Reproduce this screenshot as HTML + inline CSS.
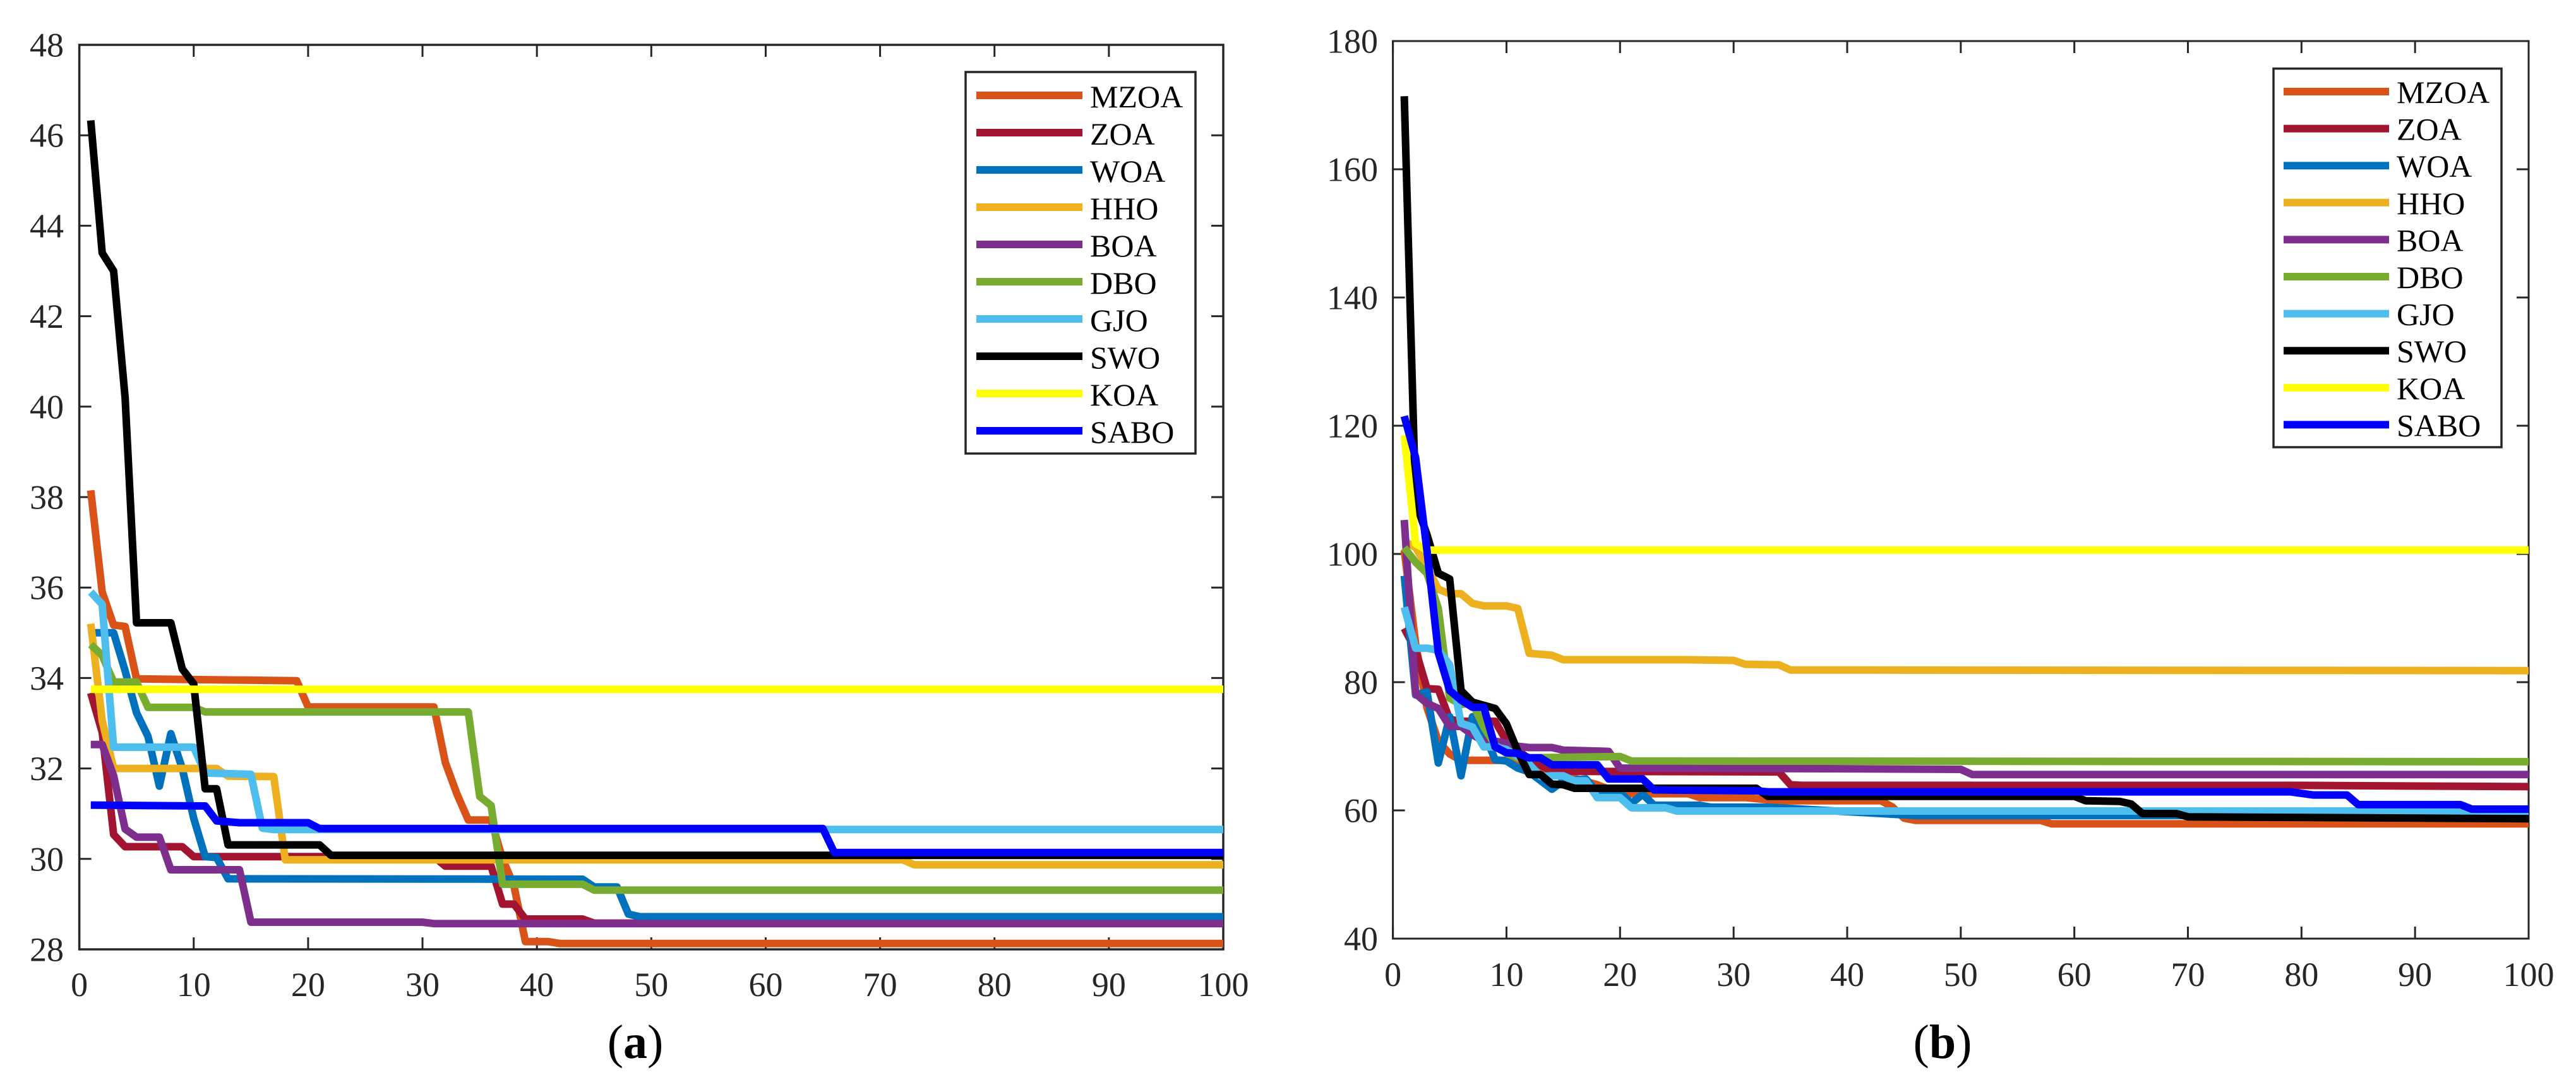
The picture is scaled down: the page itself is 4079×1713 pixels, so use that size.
<!DOCTYPE html>
<html lang="en">
<head>
<meta charset="utf-8">
<title>Convergence curves (a) and (b)</title>
<style>
html,body{margin:0;padding:0;background:#fff;}
#figure{display:block;width:4079px;height:1713px;font-family:"Liberation Serif","DejaVu Serif",serif;}
</style>
</head>
<body>
<svg id="figure" xmlns="http://www.w3.org/2000/svg" width="4079" height="1713" viewBox="0 0 4079 1713">
  <rect x="0" y="0" width="4079" height="1713" fill="#fff"/>
  <g id="panel-a"></g>
  <g id="panel-b"></g>
  <text x="1006" y="1675" font-size="76" text-anchor="middle" fill="#000">(<tspan font-weight="bold">a</tspan>)</text>
  <text x="3076" y="1675" font-size="76" text-anchor="middle" fill="#000">(<tspan font-weight="bold">b</tspan>)</text>
</svg>
<script>
const seriesNames = ["MZOA","ZOA","WOA","HHO","BOA","DBO","GJO","SWO","KOA","SABO"];
const xTickLabels = [0,10,20,30,40,50,60,70,80,90,100];
const yTickLabelsA = [28,30,32,34,36,38,40,42,44,46,48];
const yTickLabelsB = [40,60,80,100,120,140,160,180];

// Panel (a): iteration breakpoints and fitness values
const aMzoaIter = [1,2,3,4,5,19,20,31,32,33,34,36,37,38,39,41,42,100];
const aMzoaVal  = [38.15,35.9,35.17,35.14,33.98,33.94,33.36,33.36,32.13,31.44,30.86,30.86,30.0,29.4,28.17,28.17,28.13,28.13];
const aZoaIter = [1,2,3,4,9,10,31,32,36,37,38,39,44,45,100];
const aZoaVal  = [33.67,32.8,30.54,30.27,30.27,30.05,30.05,29.84,29.84,29.0,29.0,28.67,28.67,28.58,28.58];
const aWoaIter = [1,3,4,5,6,7,8,9,10,11,12,13,44,45,47,48,49,100];
const aWoaVal  = [35.0,35.0,34.16,33.23,32.71,31.61,32.77,32.0,30.9,30.05,30.03,29.56,29.55,29.38,29.38,28.78,28.72,28.72];
const aHhoIter = [1,2,3,12,13,17,18,72,73,100];
const aHhoVal  = [35.2,33.06,32.0,32.0,31.83,31.82,29.98,29.98,29.87,29.87];
const aBoaIter = [1,2,3,4,5,7,8,14,15,30,31,100];
const aBoaVal  = [32.53,32.53,31.84,30.66,30.48,30.48,29.76,29.76,28.6,28.6,28.57,28.57];
const aDboIter = [1,2,3,5,6,10,11,34,35,36,37,44,45,100];
const aDboVal  = [34.74,34.5,33.91,33.91,33.35,33.35,33.25,33.25,31.38,31.18,29.44,29.44,29.31,29.31];
const aGjoIter = [1,2,3,10,11,15,16,17,100];
const aGjoVal  = [35.9,35.63,32.47,32.47,31.9,31.87,30.68,30.65,30.65];
const aSwoIter = [1,2,3,4,5,8,9,10,11,12,13,21,22,100];
const aSwoVal  = [46.33,43.4,43.0,40.2,35.22,35.22,34.2,33.87,31.55,31.55,30.31,30.31,30.08,30.08];
const aKoaIter = [1,100];
const aKoaVal  = [33.75,33.75];
const aSaboIter = [1,11,12,14,20,21,65,66,100];
const aSaboVal  = [31.19,31.17,30.84,30.8,30.8,30.67,30.67,30.14,30.14];

// Panel (b): iteration breakpoints and fitness values
const bMzoaIter = [1,2,3,4,5,6,10,11,13,16,18,20,26,27,31,34,43,44,45,46,57,58,100];
const bMzoaVal  = [100.6,86.0,76.0,70.8,68.8,67.8,67.8,67.6,66.6,65.0,64.0,62.6,62.6,62.0,62.0,61.5,61.5,60.5,58.8,58.45,58.45,57.9,57.9];
const bZoaIter = [1,2,3,4,5,6,9,10,12,14,34,35,36,80,100];
const bZoaVal  = [88.4,85.0,79.0,78.9,74.2,73.9,73.9,70.8,68.0,66.1,66.0,64.0,63.9,63.9,63.7];
const bWoaIter = [1,2,3,4,5,6,7,8,9,10,11,12,14,15,17,18,20,21,22,23,27,28,33,46,100];
const bWoaVal  = [96.6,78.0,78.5,67.4,74.6,65.4,74.6,72.2,67.9,67.7,66.6,66.0,63.3,64.6,64.9,62.8,62.8,61.1,62.5,60.8,60.8,60.5,60.5,59.2,59.2];
const bHhoIter = [1,2,3,4,5,6,7,8,10,11,12,14,15,26,30,31,34,35,100];
const bHhoVal  = [102.0,101.0,98.0,94.5,93.8,93.8,92.3,91.9,91.9,91.5,84.5,84.2,83.5,83.5,83.4,82.8,82.7,81.9,81.8];
const bBoaIter = [1,2,3,4,5,6,7,8,9,10,11,12,14,15,19,20,38,50,51,100];
const bBoaVal  = [105.3,78.2,76.7,75.9,73.1,73.1,71.8,70.8,70.8,70.5,70.0,69.8,69.8,69.4,69.2,66.6,66.5,66.4,65.6,65.6];
const bDboIter = [1,2,3,4,5,6,7,8,9,10,11,12,20,21,100];
const bDboVal  = [101.0,98.7,97.0,91.5,77.5,76.5,76.8,73.0,70.2,68.9,68.2,68.2,68.4,67.7,67.6];
const bGjoIter = [1,2,3,4,5,6,7,8,9,10,11,12,13,14,15,16,17,18,20,21,24,25,100];
const bGjoVal  = [91.7,85.3,85.3,85.0,82.7,73.6,73.0,69.9,69.9,69.5,68.4,67.2,65.3,65.4,65.4,64.6,64.6,62.0,62.0,60.4,60.4,59.9,59.9];
const bSwoIter = [1,2,3,4,5,6,7,9,10,11,12,13,14,15,16,32,33,60,61,64,65,66,69,70,100];
const bSwoVal  = [171.4,108.0,103.0,97.0,96.1,78.7,76.9,75.9,73.5,69.2,65.6,65.6,64.1,64.0,63.45,63.45,62.2,62.2,61.5,61.4,61.0,59.5,59.5,59.0,58.7];
const bKoaIter = [1,2,3,100];
const bKoaVal  = [118.5,101.6,100.6,100.6];
const bSaboIter = [1,2,3,4,5,6,7,8,9,10,11,12,13,14,18,19,22,23,32,33,79,81,84,85,94,95,100];
const bSaboVal  = [121.5,115.0,100.5,84.6,78.7,77.2,76.1,76.1,69.9,69.0,68.9,68.2,68.2,67.1,67.1,64.9,64.9,63.2,63.05,62.9,62.9,62.4,62.4,60.9,60.9,60.2,60.2];

const seriesColors = ["#D95319","#A2142F","#0072BD","#EDB120","#7E2F8E","#77AC30","#4DBEEE","#000000","#FFFF00","#0000FF"];
const AXIS_COLOR = "#262626";
const SVG_NS = "http://www.w3.org/2000/svg";

const panelA = {
  id:"a", root:"panel-a", left:125.6, right:1937, top:71, bottom:1503,
  yMin:28, yMax:48, yTicks:yTickLabelsA, xLabelBaseline:1577, yLabelX:101, fontSize:54, axisWidth:3.5,
  iters:[aMzoaIter,aZoaIter,aWoaIter,aHhoIter,aBoaIter,aDboIter,aGjoIter,aSwoIter,aKoaIter,aSaboIter],
  vals:[aMzoaVal,aZoaVal,aWoaVal,aHhoVal,aBoaVal,aDboVal,aGjoVal,aSwoVal,aKoaVal,aSaboVal],
  legend:{x0:1529,x1:1893,y0:114,y1:718,lineX0:1546,lineX1:1714,textX:1726,firstY:151,stepY:59,baseOffset:19}
};
const panelB = {
  id:"b", root:"panel-b", left:2205.6, right:4004, top:65, bottom:1486,
  yMin:40, yMax:180, yTicks:yTickLabelsB, xLabelBaseline:1561, yLabelX:2182, fontSize:54, axisWidth:3,
  iters:[bMzoaIter,bZoaIter,bWoaIter,bHhoIter,bBoaIter,bDboIter,bGjoIter,bSwoIter,bKoaIter,bSaboIter],
  vals:[bMzoaVal,bZoaVal,bWoaVal,bHhoVal,bBoaVal,bDboVal,bGjoVal,bSwoVal,bKoaVal,bSaboVal],
  legend:{x0:3600,x1:3961,y0:108.6,y1:708,lineX0:3616,lineX1:3783,textX:3795,firstY:145,stepY:58.6,baseOffset:18}
};

function xScale(p, v){ return p.left + (v - 0) / (100 - 0) * (p.right - p.left); }
function yScale(p, v){ return p.bottom - (v - p.yMin) / (p.yMax - p.yMin) * (p.bottom - p.top); }

function make(tag, attrs, parent){
  const el = document.createElementNS(SVG_NS, tag);
  for (const k in attrs) el.setAttribute(k, attrs[k]);
  parent.appendChild(el);
  return el;
}

function drawPanel(p){
  const root = document.getElementById(p.root);

  const axes = make("g", {}, root);
  
  

  const tl = 19;
  xTickLabels.forEach(function(t){
    const x = xScale(p, t);
    const bottomTick = make("line", {x1:x,x2:x,y1:p.bottom,y2:p.bottom-tl,stroke:AXIS_COLOR,"stroke-width":3}, axes);
    
    
    const topTick = make("line", {x1:x,x2:x,y1:p.top,y2:p.top+tl,stroke:AXIS_COLOR,"stroke-width":3}, axes);
    
    
    const label = make("text", {x:x,y:p.xLabelBaseline,"font-size":p.fontSize,"text-anchor":"middle",fill:AXIS_COLOR}, axes);
    label.textContent = t;
    
    
  });
  p.yTicks.forEach(function(t){
    const y = yScale(p, t);
    const leftTick = make("line", {x1:p.left,x2:p.left+tl,y1:y,y2:y,stroke:AXIS_COLOR,"stroke-width":3}, axes);
    
    
    const rightTick = make("line", {x1:p.right,x2:p.right-tl,y1:y,y2:y,stroke:AXIS_COLOR,"stroke-width":3}, axes);
    
    
    const label = make("text", {x:p.yLabelX,y:y+18.5,"font-size":p.fontSize,"text-anchor":"end",fill:AXIS_COLOR}, axes);
    label.textContent = t;
    
    
  });
  const frame = make("rect", {x:p.left,y:p.top,width:p.right-p.left,height:p.bottom-p.top,fill:"none",stroke:AXIS_COLOR,"stroke-width":p.axisWidth}, axes);
  
  

  const clipId = "clip-" + p.id;
  const defs = make("defs", {}, root);
  const clip = make("clipPath", {id:clipId}, defs);
  make("rect", {x:p.left,y:p.top,width:p.right-p.left,height:p.bottom-p.top}, clip);

  const lines = make("g", {"clip-path":"url(#"+clipId+")"}, root);
  
  
  seriesNames.forEach(function(name, i){
    const pts = p.iters[i].map(function(it, j){
      return xScale(p, it).toFixed(1) + "," + yScale(p, p.vals[i][j]).toFixed(1);
    }).join(" ");
    const line = make("polyline", {points:pts,fill:"none",stroke:seriesColors[i],"stroke-width":12,"stroke-linejoin":"round","stroke-linecap":"butt"}, lines);
    
    
  });

  const L = p.legend;
  const legend = make("g", {}, root);
  
  
  const box = make("rect", {x:L.x0,y:L.y0,width:L.x1-L.x0,height:L.y1-L.y0,fill:"#fff",stroke:AXIS_COLOR,"stroke-width":3.5}, legend);
  
  
  seriesNames.forEach(function(name, i){
    const y = L.firstY + i * L.stepY;
    const swatch = make("line", {x1:L.lineX0,x2:L.lineX1,y1:y,y2:y,stroke:seriesColors[i],"stroke-width":12}, legend);
    
    
    const label = make("text", {x:L.textX,y:y+L.baseOffset,"font-size":50,fill:"#000"}, legend);
    label.textContent = name;
    
    
  });
}

drawPanel(panelA);
drawPanel(panelB);
</script>
</body>
</html>
